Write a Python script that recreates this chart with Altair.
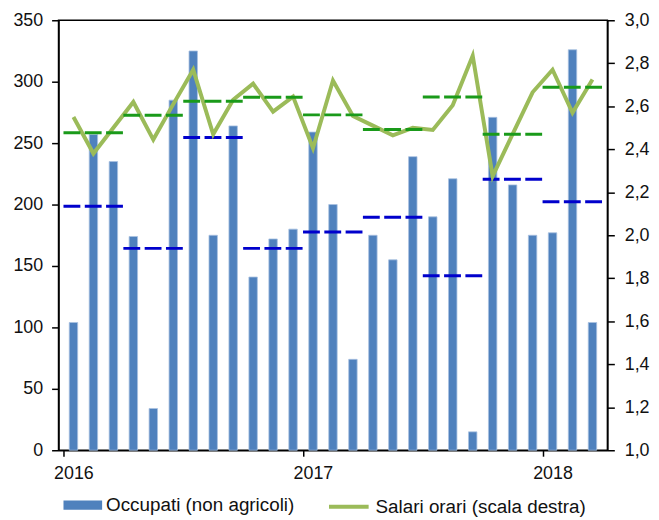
import altair as alt
import pandas as pd

# Monthly data, Jan 2016 - Mar 2018
occupati = [104, 257, 235, 174, 34, 285, 325, 175, 264, 141, 172, 180,
            259, 200, 74, 175, 155, 239, 190, 221, 15, 271, 216, 175,
            177, 326, 104]
salari = [2.55, 2.38, 2.50, 2.62, 2.445, 2.61, 2.77, 2.47, 2.63, 2.705, 2.575, 2.645,
          2.405, 2.72, 2.555, 2.51, 2.465, 2.50, 2.49, 2.605, 2.835, 2.275, 2.47, 2.665,
          2.77, 2.57, 2.725]
start_year = 2016
year_ticks = [0, 12, 24]
left_ticks = [0, 50, 100, 150, 200, 250, 300, 350]
right_ticks = [1.0, 1.2, 1.4, 1.6, 1.8, 2.0, 2.2, 2.4, 2.6, 2.8, 3.0]
bar_label = "Occupati (non agricoli)"
line_label = "Salari orari (scala destra)"

df = pd.DataFrame({"t": list(range(len(occupati))), "occupati": occupati, "salari": salari})

FONT = "Liberation Sans"
TXT = "#111111"

base = alt.Chart(df).transform_calculate(
    xm="datum.t + 0.5", q="floor(datum.t / 3)"
)

x_scale = alt.Scale(domain=[0, len(occupati)], nice=False, zero=False)
x_axis = alt.Axis(values=year_ticks, labelExpr=f"'' + ({start_year} + datum.value / 12)",
                  labelOffset=10, tickSize=6, labelPadding=9, grid=False)

yl_scale = alt.Scale(domain=[0, 350], nice=False)
yl_axis = alt.Axis(values=left_ticks, orient="left", tickSize=7, labelPadding=9, grid=False)
yr_scale = alt.Scale(domain=[1, 3], nice=False, zero=False)
yr_axis = alt.Axis(values=right_ticks, orient="right", tickSize=7, labelPadding=10, grid=False,
                   labelExpr="replace(format(datum.value, '.1f'), '.', ',')")

bars = base.transform_calculate(serie=f"'{bar_label}'").mark_bar(
    width=8.5, stroke="#A9C1E0", strokeWidth=0.8
).encode(
    x=alt.X("xm:Q", scale=x_scale, axis=x_axis, title=None),
    y=alt.Y("occupati:Q", scale=yl_scale, axis=yl_axis, title=None),
    fill=alt.Fill("serie:N", title=None,
                  scale=alt.Scale(domain=[bar_label], range=["#4F81BD"]),
                  legend=alt.Legend(orient="none", legendX=5, legendY=469.8,
                                    symbolType="M-1,-0.24H1V0.24H-1Z", symbolSize=1521,
                                    symbolStrokeWidth=0, labelFont=FONT, labelFontSize=19,
                                    labelColor=TXT, labelOffset=4, labelLimit=400, padding=0)),
)

quarters = base.transform_aggregate(
    mean_occ="mean(occupati)", mean_sal="mean(salari)", groupby=["q"]
).transform_calculate(qs="datum.q * 3", qe="datum.q * 3 + 3")

blue_rule = quarters.mark_rule(color="#0000CC", strokeWidth=3, strokeDash=[17, 4.5]).encode(
    x=alt.X("qs:Q", scale=x_scale, axis=x_axis, title=None),
    x2="qe:Q",
    y=alt.Y("mean_occ:Q", scale=yl_scale, axis=yl_axis, title=None),
)

line = base.transform_calculate(serie2=f"'{line_label}'").mark_line(strokeWidth=4).encode(
    x=alt.X("xm:Q", scale=x_scale, axis=x_axis, title=None),
    y=alt.Y("salari:Q", scale=yr_scale, axis=yr_axis, title=None),
    stroke=alt.Stroke("serie2:N", title=None,
                      scale=alt.Scale(domain=[line_label], range=["#9BBB59"]),
                      legend=alt.Legend(orient="none", legendX=271, legendY=469,
                                        symbolType="stroke", symbolSize=1600,
                                        symbolStrokeWidth=4, labelFont=FONT, labelFontSize=19,
                                        labelColor=TXT, labelOffset=5, labelLimit=400, padding=0)),
)

green_rule = quarters.mark_rule(color="#1A9A1A", strokeWidth=3, strokeDash=[17, 4.5]).encode(
    x=alt.X("qs:Q", scale=x_scale, axis=x_axis, title=None),
    x2="qe:Q",
    y=alt.Y("mean_sal:Q", scale=yr_scale, axis=yr_axis, title=None),
)

left = alt.layer(bars, blue_rule)
right = alt.layer(line, green_rule)

chart = alt.layer(left, right).resolve_scale(
    y="independent"
).properties(
    width=554, height=434,
    autosize=alt.AutoSizeParams(type="none"),
    padding={"left": 51, "top": 10, "right": 44, "bottom": 68},
).configure_view(
    stroke="black", strokeWidth=1.5
).configure_axis(
    labelFont=FONT, labelFontSize=18, labelColor=TXT,
    domainColor="black", tickColor="black", domainWidth=1.5, tickWidth=1.5,
)

chart.save("out.html", embed_options={"renderer": "svg", "actions": False})
